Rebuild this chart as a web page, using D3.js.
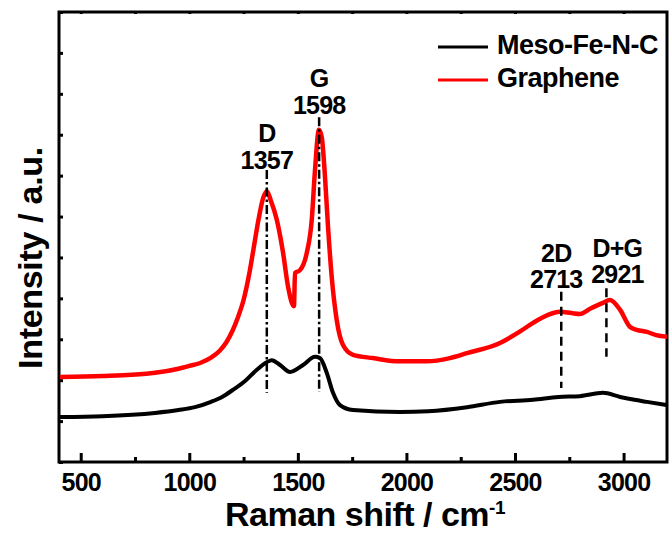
<!DOCTYPE html>
<html>
<head>
<meta charset="utf-8">
<script src="https://cdn.jsdelivr.net/npm/d3@7"></script>
<style>
  body { margin: 0; background: #fff; }
  text { font-family: "Liberation Sans", Arial, sans-serif; font-weight: bold; fill: #000; }
</style>
</head>
<body>
<div id="chart"></div>
<script>
// Raman spectra (intensity in a.u.)
const mesoShift = [405, 600, 842, 950, 1026, 1100, 1151, 1200, 1257, 1310, 1357, 1380, 1418, 1464, 1524,
  1579, 1602, 1633, 1662, 1694, 1754, 1970, 2100, 2279, 2431, 2583, 2700, 2799, 2905, 2984, 3050, 3108, 3200];
const mesoInt = [1.10, 1.12, 1.20, 1.27, 1.34, 1.47, 1.59, 1.76, 1.98, 2.25, 2.44, 2.49, 2.37, 2.20, 2.37,
  2.57, 2.54, 2.18, 1.69, 1.39, 1.27, 1.22, 1.24, 1.34, 1.47, 1.52, 1.59, 1.61, 1.69, 1.59, 1.52, 1.47, 1.39];

const grapheneShift = [405, 600, 842, 950, 1000, 1050, 1100, 1140, 1170, 1200, 1225, 1250, 1275, 1295, 1320,
  1340, 1357, 1375, 1403, 1432, 1455, 1482, 1487, 1510, 1541, 1564, 1579, 1597, 1610, 1625, 1639, 1656,
  1679, 1708, 1754, 1846, 1970, 2095, 2200, 2279, 2431, 2520, 2583, 2650, 2707, 2760, 2799, 2850, 2905,
  2937, 2984, 3030, 3060, 3108, 3150, 3200];
const grapheneInt = [2.08, 2.10, 2.18, 2.28, 2.35, 2.42, 2.55, 2.72, 2.92, 3.22, 3.55, 3.96, 4.57, 5.18, 5.96,
  6.45, 6.62, 6.40, 5.92, 5.11, 4.28, 3.81, 4.62, 4.69, 5.11, 5.92, 7.14, 8.12, 7.94, 6.97, 5.74, 4.52,
  3.47, 2.86, 2.62, 2.54, 2.46, 2.46, 2.54, 2.66, 2.91, 3.18, 3.40, 3.59, 3.67, 3.64, 3.62, 3.76, 3.89,
  3.96, 3.72, 3.30, 3.23, 3.18, 3.10, 3.06];

const seriesNames = ["Meso-Fe-N-C", "Graphene"];
const seriesColors = ["#000000", "#ff0000"];

// peak markers
const peakNames = ["D", "G", "2D", "D+G"];
const peakShift = [1357, 1598, 2713, 2921];
const peakTop = [7.14, 8.43, 4.16, 4.25];
const peakBottom = [1.69, 1.71, 1.81, 2.57];

const xMajor = [500, 1000, 1500, 2000, 2500, 3000];
const xMinor = [750, 1250, 1750, 2250, 2750];

const W = 671, H = 533;
const margin = {top: 12, right: 4, bottom: 71, left: 59};

const x = d3.scaleLinear().domain([400, 3200]).range([margin.left, W - margin.right]);
const y = d3.scaleLinear().domain([0, 11]).range([H - margin.bottom, margin.top]);

const svg = d3.select("#chart").append("svg")
  .attr("width", W).attr("height", H);

svg.append("clipPath").attr("id", "clip")
  .append("rect")
  .attr("x", x(400)).attr("y", y(11))
  .attr("width", x(3200) - x(400)).attr("height", y(0) - y(11));

// bottom axis
const xAxis = svg.append("g")
  .attr("transform", "translate(0," + y(0) + ")")
  .call(d3.axisBottom(x).tickValues(xMajor).tickSize(-9).tickFormat(d3.format("d")));
xAxis.selectAll("text")
  .attr("y", 29).attr("dy", null)
  .style("font-size", "25px").style("letter-spacing", "-0.8px");
svg.append("g")
  .attr("transform", "translate(0," + y(0) + ")")
  .call(d3.axisBottom(x).tickValues(xMinor).tickSize(-5).tickFormat(""));

// small ticks along the top
svg.append("g")
  .attr("transform", "translate(0," + y(11) + ")")
  .call(d3.axisTop(x).tickValues(xMajor.concat(xMinor)).tickSize(-2).tickFormat(""));

// left axis, ticks only
svg.append("g")
  .attr("transform", "translate(" + x(400) + ",0)")
  .call(d3.axisLeft(y).ticks(11).tickSize(-4).tickFormat(""));

svg.selectAll(".domain").remove();
svg.selectAll(".tick line").attr("stroke", "#000").attr("stroke-width", 3);

// frame
svg.append("rect")
  .attr("x", x(400)).attr("y", y(11))
  .attr("width", x(3200) - x(400)).attr("height", y(0) - y(11))
  .attr("fill", "none").attr("stroke", "#000").attr("stroke-width", 3);

// spectra
const line = d3.line()
  .x(d => x(d[0]))
  .y(d => y(d[1]))
  .curve(d3.curveMonotoneX);

const series = [
  d3.zip(mesoShift, mesoInt),
  d3.zip(grapheneShift, grapheneInt)
];

svg.append("g").attr("clip-path", "url(#clip)")
  .selectAll("path").data(series).enter()
  .append("path")
  .attr("d", line)
  .attr("fill", "none")
  .attr("stroke", (d, i) => seriesColors[i])
  .attr("stroke-width", (d, i) => i == 1 ? 4.5 : 4)
  .attr("stroke-linejoin", "round");

// peak marker lines
const dashes = ["9,3,2.5,3", "9,3,2.5,3", "9,6", "9,6"];
svg.selectAll("line.peak").data(peakNames).enter()
  .append("line")
  .attr("class", "peak")
  .attr("x1", (d, i) => x(peakShift[i])).attr("x2", (d, i) => x(peakShift[i]))
  .attr("y1", (d, i) => y(peakTop[i])).attr("y2", (d, i) => y(peakBottom[i]))
  .attr("stroke", "#000").attr("stroke-width", 2.5)
  .attr("stroke-dasharray", (d, i) => dashes[i]);

// labels above the marker lines: offsets from the line top
const labelLayout = [
  {dx: 0, num: -1, name: -28},
  {dx: 0, num: -3, name: -30},
  {dx: -5, num: -4, name: -30},
  {dx: 11, num: -5, name: -31}
];
const labels = svg.append("g").style("font-size", "25px").style("letter-spacing", "-0.8px")
  .attr("text-anchor", "middle");
peakNames.forEach(function(name, i) {
  const lx = x(peakShift[i]) + labelLayout[i].dx;
  const top = y(peakTop[i]);
  labels.append("text").attr("x", lx).attr("y", top + labelLayout[i].name).text(name);
  labels.append("text").attr("x", lx).attr("y", top + labelLayout[i].num).text(peakShift[i]);
});

// legend
const legend = svg.append("g").attr("transform", "translate(438,47)");
seriesNames.forEach(function(name, i) {
  legend.append("line")
    .attr("x1", 0).attr("x2", 50).attr("y1", i * 33).attr("y2", i * 33)
    .attr("stroke", seriesColors[i]).attr("stroke-width", 3);
  legend.append("text")
    .attr("x", 59).attr("y", i * 33 + 7)
    .style("font-size", "27px").style("letter-spacing", "-0.5px")
    .text(name);
});

// axis titles
const xt = svg.append("text")
  .attr("x", 365).attr("y", 526)
  .attr("text-anchor", "middle")
  .style("font-size", "34px").style("letter-spacing", "-0.5px");
xt.append("tspan").text("Raman shift / cm");
xt.append("tspan").attr("dy", -12).style("font-size", "19px").text("-1");

svg.append("text")
  .attr("transform", "translate(42,258) rotate(-90)")
  .attr("text-anchor", "middle")
  .style("font-size", "34px").style("letter-spacing", "-0.3px")
  .text("Intensity / a.u.");
</script>
</body>
</html>
